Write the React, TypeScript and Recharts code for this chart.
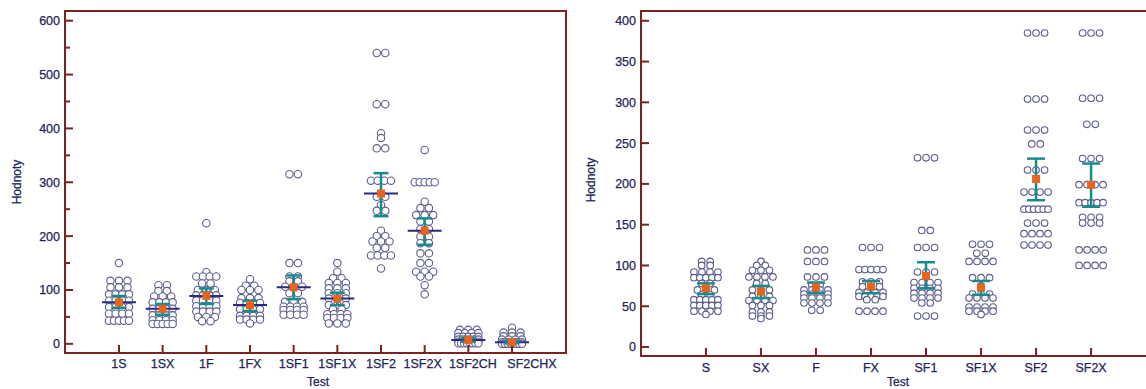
import React from 'react';
import { ComposedChart, Scatter, XAxis, YAxis, ErrorBar, ReferenceArea } from 'recharts';

const FONT = '"Liberation Sans", Arial, sans-serif';
const AXIS_COLOR = '#7b2222';
const TEXT_COLOR = '#23235a';
const DOT_STROKE = '#5c5c8e';
const MEAN_COLOR = '#e8641c';
const CI_COLOR = '#178c8c';
const MEDIAN_COLOR = '#2a2a82';

// ---------- Left panel data ----------
const leftCategories = ['1S', '1SX', '1F', '1FX', '1SF1', '1SF1X', '1SF2', '1SF2X', '1SF2CH', 'SF2CHX'];
const l1S = [150, 117, 117, 117, 105, 105, 105, 92, 92, 92, 92, 80, 80, 80, 80, 68, 68, 68, 68, 56, 56, 56, 56, 43, 43, 43, 43, 43];
const l1SX = [109, 109, 98, 98, 88, 88, 88, 77, 77, 77, 77, 65, 65, 65, 65, 53, 53, 53, 53, 44, 44, 44, 44, 37, 37, 37, 37, 37];
const l1F = [224, 133, 125, 125, 125, 125, 112, 112, 100, 100, 100, 90, 90, 90, 90, 80, 80, 80, 80, 70, 70, 70, 70, 60, 60, 60, 60, 50, 50, 50, 42, 42];
const l1FX = [120, 108, 108, 100, 100, 100, 85, 85, 85, 76, 76, 76, 76, 64, 64, 64, 64, 52, 52, 52, 52, 45, 45, 45, 45, 38];
const l1SF1 = [315, 315, 150, 150, 125, 125, 116, 116, 106, 106, 106, 94, 94, 78, 78, 78, 69, 69, 69, 69, 63, 63, 63, 63, 54, 54, 54, 54];
const l1SF1X = [150, 134, 122, 122, 113, 113, 113, 103, 103, 103, 94, 94, 94, 84, 84, 84, 72, 72, 72, 64, 64, 55, 55, 55, 55, 48, 48, 48, 48, 38, 38, 38];
const l1SF2 = [540, 540, 445, 445, 391, 382, 363, 363, 303, 303, 303, 303, 273, 273, 258, 247, 247, 210, 200, 200, 190, 190, 190, 178, 178, 164, 164, 164, 164, 140];
const l1SF2X = [360, 300, 300, 300, 300, 300, 264, 252, 252, 239, 239, 239, 227, 227, 213, 213, 199, 199, 187, 187, 168, 168, 150, 150, 134, 134, 134, 125, 125, 109, 92];
const l1SF2CH = [26, 26, 26, 20, 20, 20, 20, 13, 13, 13, 13, 13, 8, 8, 8, 8, 8, 8, 4, 4, 4, 4, 4, 4, 4, 1, 1, 1, 1, 1, 1, 1, 1];
const lSF2CHX = [30, 21, 21, 21, 14, 14, 14, 8, 8, 8, 8, 3, 3, 3, 3, 3, 3, 0, 0, 0, 0, 0, 0, 0, 0];
const leftValues = [l1S, l1SX, l1F, l1FX, l1SF1, l1SF1X, l1SF2, l1SF2X, l1SF2CH, lSF2CHX];
const leftMeans = [77, 65, 89, 72, 105, 84, 279, 210, 7, 3];
const leftCiLow = [67, 54, 74, 61, 83, 72, 237, 184, 4, 1];
const leftCiHigh = [89, 74, 103, 80, 127, 95, 317, 233, 11, 6];
const leftMedians = [77, 65, 89, 72, 105, 84, 279, 210, 7, 3];
const leftYTicks = [0, 50, 100, 150, 200, 250, 300, 350, 400, 450, 500, 550, 600];

// ---------- Right panel data ----------
const rightCategories = ['S', 'SX', 'F', 'FX', 'SF1', 'SF1X', 'SF2', 'SF2X'];
const rS = [105, 105, 100, 100, 92, 92, 92, 92, 85, 85, 85, 85, 85, 78, 78, 70, 70, 70, 64, 64, 58, 58, 58, 58, 58, 51, 51, 51, 51, 51, 44, 44, 44, 44, 40];
const rSX = [105, 100, 100, 94, 94, 94, 86, 86, 86, 86, 78, 78, 70, 70, 70, 62, 62, 62, 57, 57, 57, 57, 51, 51, 51, 43, 43, 43, 38, 38, 38, 35];
const rF = [119, 119, 119, 105, 105, 105, 86, 86, 86, 76, 76, 70, 70, 70, 70, 65, 65, 65, 65, 60, 60, 60, 60, 54, 54, 54, 54, 45, 45];
const rFX = [122, 122, 122, 95, 95, 95, 95, 95, 80, 80, 80, 74, 74, 74, 67, 67, 67, 67, 62, 62, 62, 62, 62, 58, 58, 44, 44, 44, 44];
const rSF1 = [232, 232, 232, 143, 143, 122, 122, 122, 92, 92, 92, 79, 79, 79, 79, 72, 72, 72, 72, 66, 66, 66, 66, 60, 60, 60, 60, 54, 54, 38, 38, 38];
const rSF1X = [126, 126, 126, 115, 115, 105, 105, 105, 105, 85, 85, 85, 75, 65, 65, 65, 60, 60, 60, 60, 49, 49, 49, 49, 44, 44, 44, 44, 40];
const rSF2 = [385, 385, 385, 304, 304, 304, 266, 266, 266, 249, 249, 217, 217, 217, 190, 190, 190, 190, 169, 169, 169, 169, 169, 169, 152, 152, 152, 139, 139, 139, 139, 125, 125, 125, 125];
const rSF2X = [385, 385, 385, 305, 305, 305, 273, 273, 231, 231, 231, 199, 199, 199, 199, 177, 177, 177, 177, 177, 159, 159, 159, 152, 152, 152, 119, 119, 119, 119, 100, 100, 100, 100];
const rightValues = [rS, rSX, rF, rFX, rSF1, rSF1X, rSF2, rSF2X];
const rightMeans = [72, 68, 73, 74, 87, 73, 206, 199];
const rightCiLow = [65, 60, 66, 66, 72, 64, 180, 172];
const rightCiHigh = [78, 75, 79, 81, 104, 81, 231, 225];
const rightYTicks = [0, 50, 100, 150, 200, 250, 300, 350, 400];

// label nudges (styling only) to keep crowded tick labels apart, as in the original
const leftLabelShift = [0, 0, 0, 0, 0, 0, 0, -2, 4.5, 20];
const rightLabelShift = [0, 0, 0, 0, 0, 0, 0, 0];

type DotPoint = { x: number; y: number };

function layoutDots(groups: number[][], pxPerUnitX: number, spacing: number, maxSpan: number): DotPoint[] {
  const pts: DotPoint[] = [];
  groups.forEach((vals, gi) => {
    const rows = new Map<number, number>();
    vals.forEach((v) => rows.set(v, (rows.get(v) || 0) + 1));
    rows.forEach((n, v) => {
      const s = n > 1 ? Math.min(spacing, maxSpan / (n - 1)) : 0;
      for (let k = 0; k < n; k++) {
        const offPx = (k - (n - 1) / 2) * s;
        pts.push({ x: gi + 1 + offPx / pxPerUnitX, y: v });
      }
    });
  });
  return pts;
}

type PanelProps = {
  width: number;
  height: number;
  marginTop: number;
  marginRight: number;
  yAxisWidth: number;
  xAxisHeight: number;
  categories: string[];
  values: number[][];
  means: number[];
  ciLow: number[];
  ciHigh: number[];
  medians?: number[];
  yDomain: [number, number];
  xDomain: [number, number];
  yTicks: number[];
  majorStep: number;
  dotR: number;
  spacing: number;
  maxSpan: number;
  capHalf: number;
  xLabelDy: number;
  labelShift: number[];
  xTitle: [number, number];
  yTitle: [number, number];
};

function Panel(p: PanelProps) {
  const plotW = p.width - p.yAxisWidth - p.marginRight;
  const pxPerX = plotW / (p.xDomain[1] - p.xDomain[0]);
  const dots = layoutDots(p.values, pxPerX, p.spacing, p.maxSpan);
  const summary = p.categories.map((_, i) => ({
    x: i + 1,
    y: p.means[i],
    err: [p.means[i] - p.ciLow[i], p.ciHigh[i] - p.means[i]],
  }));
  const medianData = p.medians ? p.categories.map((_, i) => ({ x: i + 1, y: p.medians![i] })) : [];
  const xTicks = p.categories.map((_, i) => i + 1);
  const margin = { top: p.marginTop, right: p.marginRight, bottom: 0, left: 0 };

  const dotShape = (props: any) => (
    <circle cx={props.cx} cy={props.cy} r={p.dotR} fill="#ffffff" stroke={DOT_STROKE} strokeWidth={1.1} />
  );
  const medianShape = (props: any) => (
    <line x1={props.cx - 17} x2={props.cx + 17} y1={props.cy} y2={props.cy} stroke={MEDIAN_COLOR} strokeWidth={2} />
  );
  const meanShape = (props: any) => (
    <rect x={props.cx - 4} y={props.cy - 4} width={8} height={8} fill={MEAN_COLOR} />
  );

  const textStyle = { fontSize: 12.5, fontFamily: FONT, fill: TEXT_COLOR, stroke: TEXT_COLOR, strokeWidth: 0.25 };

  const yTick = (props: any) => {
    const { x, y, payload } = props;
    const v = payload.value;
    const major = v % p.majorStep === 0;
    return (
      <g>
        <line x1={x - 1} x2={x + (major ? 8 : 5)} y1={y} y2={y} stroke={AXIS_COLOR} strokeWidth={2} />
        {major && (
          <text x={x - 5} y={y} dy="0.35em" textAnchor="end" {...textStyle}>
            {v}
          </text>
        )}
      </g>
    );
  };
  const xTick = (props: any) => {
    const { x, y, payload } = props;
    const i = payload.value - 1;
    return (
      <g>
        <line x1={x} x2={x} y1={y + 1} y2={y - 8} stroke={AXIS_COLOR} strokeWidth={2} />
        <text x={x + (p.labelShift[i] || 0)} y={y + p.xLabelDy} textAnchor="middle" {...textStyle}>
          {p.categories[i]}
        </text>
      </g>
    );
  };

  return (
    <div style={{ position: 'relative', width: p.width, height: p.height }}>
      <div style={{ position: 'absolute', left: 0, top: 0 }}>
        <ComposedChart width={p.width} height={p.height} margin={margin}>
          <XAxis
            type="number"
            dataKey="x"
            domain={p.xDomain}
            ticks={xTicks}
            interval={0}
            allowDataOverflow
            height={p.xAxisHeight}
            axisLine={false}
            tickLine={false}
            tickSize={0}
            tickMargin={0}
            tick={xTick}
            label={{
              content: () => (
                <text x={p.xTitle[0]} y={p.xTitle[1]} textAnchor="middle" {...textStyle} fontSize={12}>
                  Test
                </text>
              ),
            }}
          />
          <YAxis
            type="number"
            dataKey="y"
            domain={p.yDomain}
            ticks={p.yTicks}
            interval={0}
            allowDataOverflow
            width={p.yAxisWidth}
            axisLine={false}
            tickLine={false}
            tickSize={0}
            tickMargin={0}
            tick={yTick}
            label={{
              content: () => (
                <text
                  x={p.yTitle[0]}
                  y={p.yTitle[1]}
                  transform={`rotate(-90 ${p.yTitle[0]} ${p.yTitle[1]})`}
                  textAnchor="middle"
                  dy="0.35em"
                  {...textStyle}
                  fontSize={12}
                >
                  Hodnoty
                </text>
              ),
            }}
          />
          <ReferenceArea
            x1={p.xDomain[0]}
            x2={p.xDomain[1]}
            y1={p.yDomain[0]}
            y2={p.yDomain[1]}
            fill="none"
            fillOpacity={0}
            stroke={AXIS_COLOR}
            strokeWidth={2}
            ifOverflow="visible"
          />
          <Scatter data={dots} isAnimationActive={false} shape={dotShape} />
          {p.medians && <Scatter data={medianData} isAnimationActive={false} shape={medianShape} />}
        </ComposedChart>
      </div>
      <div style={{ position: 'absolute', left: 0, top: 0, pointerEvents: 'none' }}>
        <ComposedChart width={p.width} height={p.height} margin={margin}>
          <XAxis
            type="number"
            dataKey="x"
            domain={p.xDomain}
            ticks={xTicks}
            allowDataOverflow
            height={p.xAxisHeight}
            axisLine={false}
            tickLine={false}
            tick={false}
          />
          <YAxis
            type="number"
            dataKey="y"
            domain={p.yDomain}
            ticks={p.yTicks}
            allowDataOverflow
            width={p.yAxisWidth}
            axisLine={false}
            tickLine={false}
            tick={false}
          />
          <Scatter data={summary} isAnimationActive={false} shape={meanShape}>
            <ErrorBar dataKey="err" direction="y" width={p.capHalf} stroke={CI_COLOR} strokeWidth={2.5} />
          </Scatter>
        </ComposedChart>
      </div>
    </div>
  );
}

export default function App() {
  return (
    <div
      style={{
        position: 'fixed',
        left: 0,
        top: 0,
        width: 1146,
        height: 389,
        overflow: 'hidden',
        background: '#ffffff',
      }}
    >
      <div style={{ position: 'absolute', left: 0, top: 0 }}>
        <Panel
          width={580}
          height={389}
          marginTop={11}
          marginRight={14}
          yAxisWidth={65}
          xAxisHeight={36}
          categories={leftCategories}
          values={leftValues}
          means={leftMeans}
          ciLow={leftCiLow}
          ciHigh={leftCiHigh}
          medians={leftMedians}
          yDomain={[-17, 618]}
          xDomain={[-0.236, 11.236]}
          yTicks={leftYTicks}
          majorStep={100}
          dotR={3.7}
          spacing={8.5}
          maxSpan={20}
          capHalf={7.5}
          xLabelDy={14.5}
          labelShift={leftLabelShift}
          xTitle={[318, 386]}
          yTitle={[17, 182]}
        />
      </div>
      <div style={{ position: 'absolute', left: 570, top: 0 }}>
        <Panel
          width={600}
          height={389}
          marginTop={11}
          marginRight={14}
          yAxisWidth={71}
          xAxisHeight={33}
          categories={rightCategories}
          values={rightValues}
          means={rightMeans}
          ciLow={rightCiLow}
          ciHigh={rightCiHigh}
          yDomain={[-11, 412]}
          xDomain={[-0.18, 9.18]}
          yTicks={rightYTicks}
          majorStep={50}
          dotR={3.3}
          spacing={8.5}
          maxSpan={24}
          capHalf={9}
          xLabelDy={15.5}
          labelShift={rightLabelShift}
          xTitle={[328, 386]}
          yTitle={[21, 180]}
        />
      </div>
    </div>
  );
}
